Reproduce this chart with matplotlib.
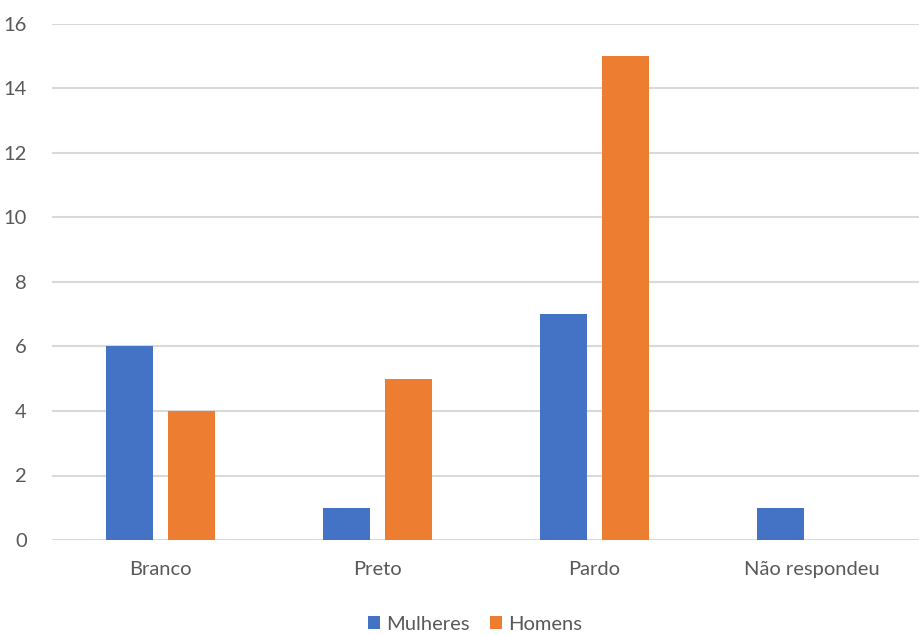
import matplotlib
matplotlib.use("Agg")
import matplotlib.pyplot as plt
import numpy as np

categories = ["Branco", "Preto", "Pardo", "Não respondeu"]
mulheres = [6, 1, 7, 1]
homens = [4, 5, 15, 0]
series_names = ["Mulheres", "Homens"]
y_ticks = [0, 2, 4, 6, 8, 10, 12, 14, 16]

plt.rcParams["font.family"] = ["Lato", "DejaVu Sans"]
text_color = "#595959"
fs = 14.5

fig = plt.figure(figsize=(9.2, 6.35), dpi=100)
ax = fig.add_axes([52 / 920, 95 / 635, 868 / 920, 516 / 635])

x = np.arange(len(categories))
w = 0.22
off = 0.143
ax.bar(x - off, mulheres, width=w, color="#4472C4", label=series_names[0], zorder=3)
ax.bar(x + off, homens, width=w, color="#ED7D31", label=series_names[1], zorder=3)

ax.set_xlim(-0.5, len(categories) - 0.5)
ax.set_ylim(0, 16)
ax.set_yticks(y_ticks)
ax.set_xticks(x)
ax.set_xticklabels(categories)
ax.yaxis.grid(True, color="#D9D9D9", linewidth=1.5, zorder=0)
ax.set_axisbelow(True)
for s in ax.spines.values():
    s.set_visible(False)
ax.tick_params(axis="both", length=0, labelsize=fs, colors=text_color)
ax.tick_params(axis="y", pad=18)
ax.tick_params(axis="x", pad=15)

fig.legend(loc="center", bbox_to_anchor=(475 / 920, 11 / 635), ncol=2, frameon=False,
           fontsize=fs, labelcolor=text_color, handlelength=0.6, handleheight=0.6,
           handletextpad=0.3, columnspacing=1.0)

fig.savefig("out.png", dpi=100, facecolor="white")
